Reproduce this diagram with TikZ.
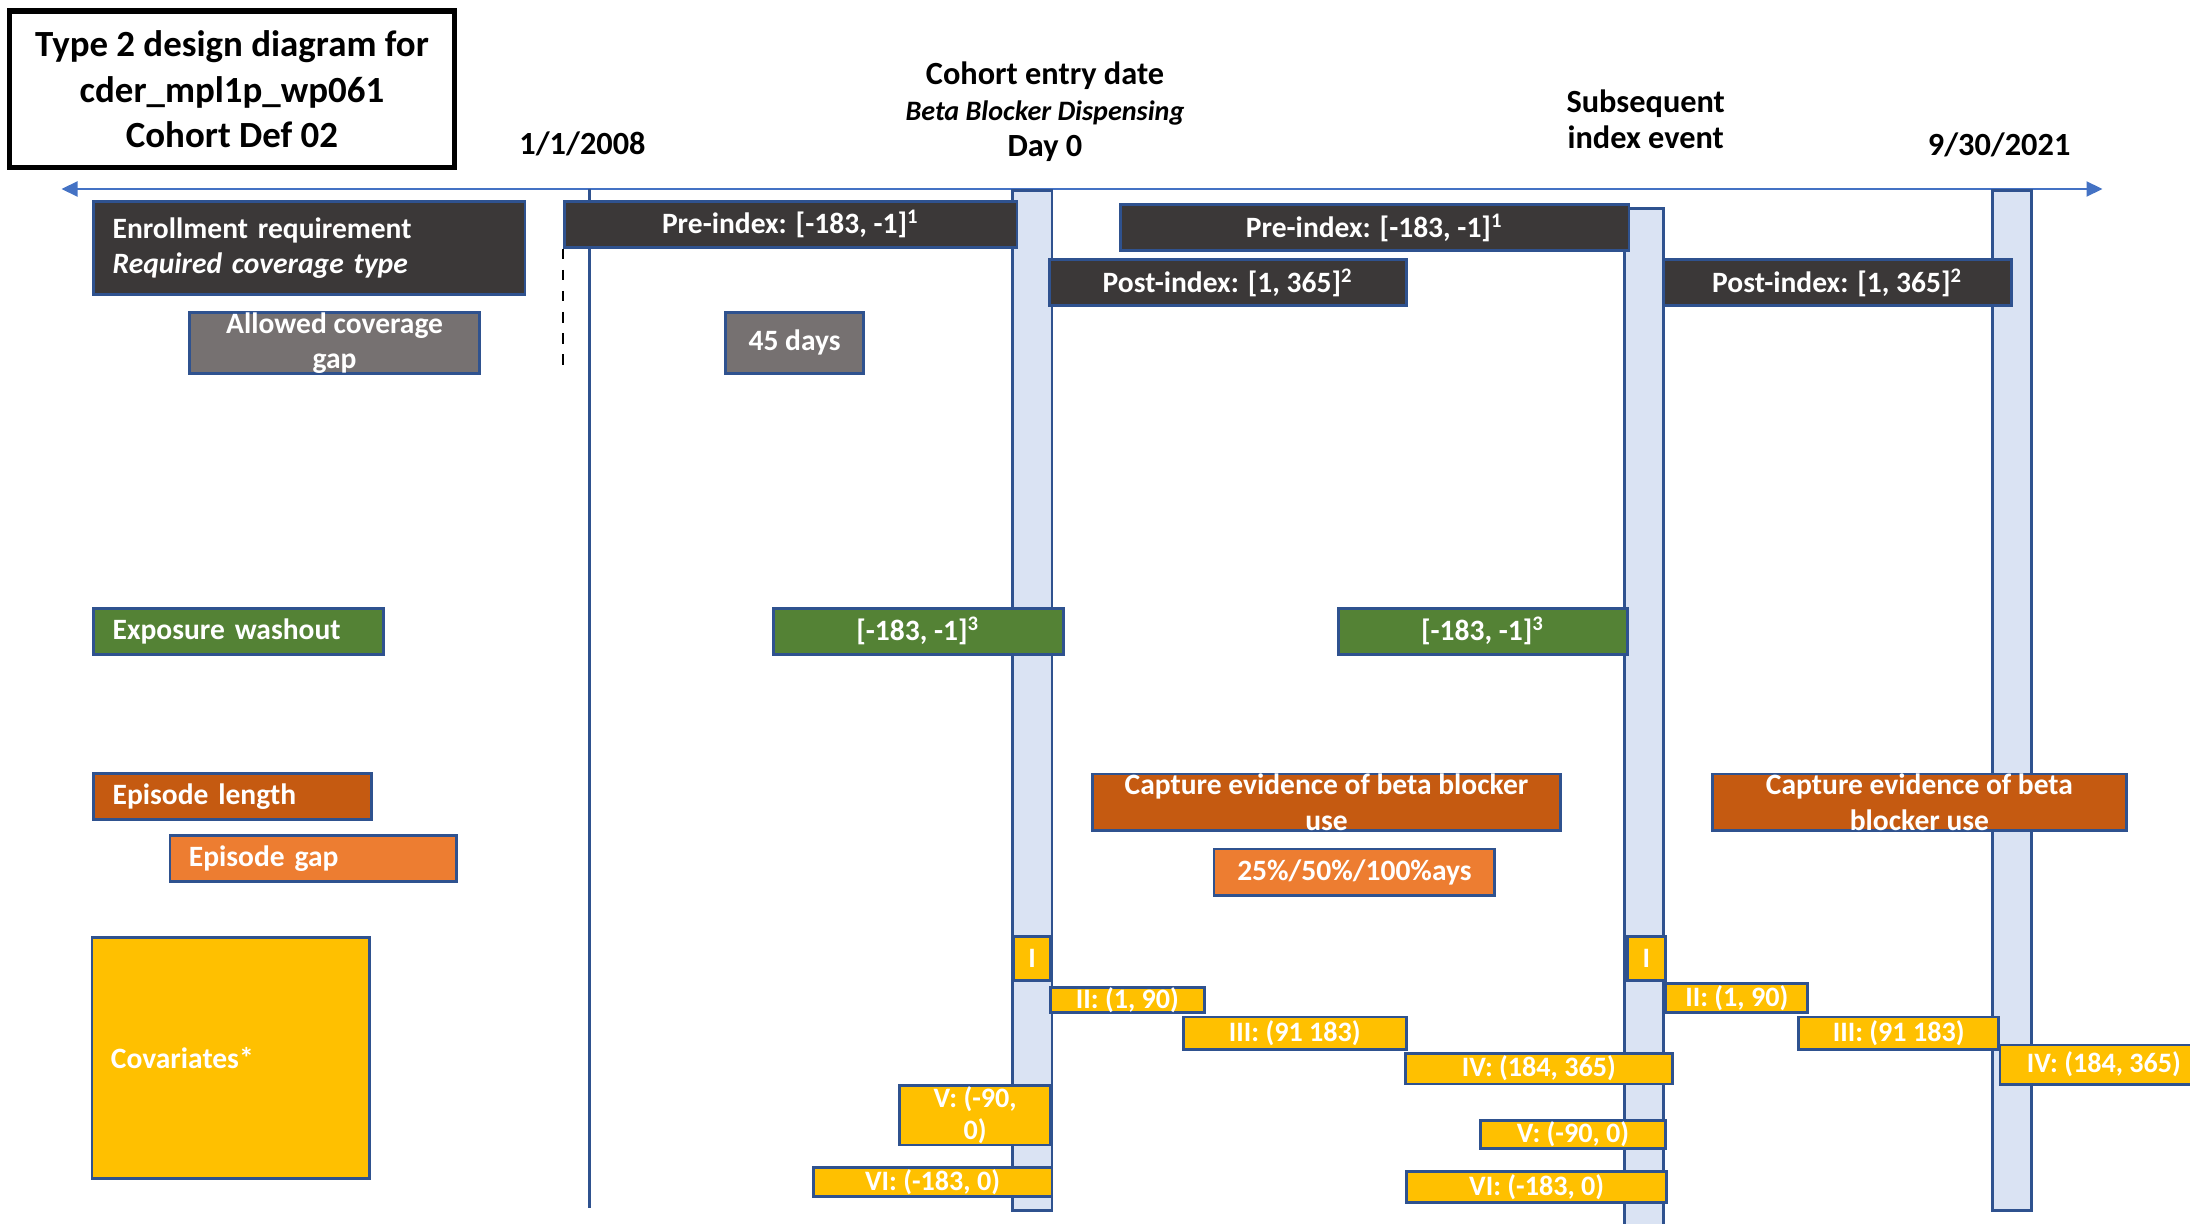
\documentclass[tikz,border=0pt]{standalone}
\usepackage{fontspec}
\setmainfont{Carlito}
\usetikzlibrary{arrows.meta}

\definecolor{edge}{HTML}{2F528F}
\definecolor{axisblue}{HTML}{4472C4}
\definecolor{barblue}{HTML}{DAE3F3}
\definecolor{darkbox}{HTML}{3B3838}
\definecolor{graybox}{HTML}{767171}
\definecolor{greenbox}{HTML}{548235}
\definecolor{rustbox}{HTML}{C55A11}
\definecolor{orangebox}{HTML}{ED7D31}
\definecolor{goldbox}{HTML}{FFC000}

\tikzset{
  box/.style={draw=edge, line width=0.8pt, fill=#1, text=white, inner sep=0pt,
    anchor=north west, align=center, font=\bfseries\fontsize{8.4}{10.1}\selectfont},
  lbox/.style={box=#1, align=left, inner xsep=0.19cm},
  cov/.style={box=goldbox, font=\bfseries\fontsize{8}{9.2}\selectfont},
  bar/.style={draw=edge, line width=0.8pt, fill=barblue, anchor=north west,
    minimum width=0.391cm, inner sep=0pt},
  date/.style={font=\bfseries\fontsize{9.2}{10.3}\selectfont, align=center},
}

\begin{document}
\begin{tikzpicture}
    \useasboundingbox (0,0) rectangle (21.90,12.23);

    % Title
    \node[draw, line width=1.6pt, minimum width=4.449cm, minimum height=1.565cm, align=center,
      font=\bfseries\fontsize{10.5}{12.9}\selectfont] (title) at (2.32,11.336)
      {Type 2 design diagram for\\cder\_mpl1p\_wp061\\Cohort Def 02};

    % Timeline
    \coordinate (tl-w) at (0.615,10.340);
    \coordinate (tl-e) at (21.025,10.340);
    \draw[axisblue, line width=0.6pt, {Triangle[length=0.16cm,width=0.15cm]}-{Triangle[length=0.16cm,width=0.15cm]}] (tl-w) -- (tl-e);

    % Dates
    \node[date] (d-start) at (5.825,10.791) {1/1/2008};
    \node[date] (d-entry) at (10.450,11.110) {Cohort entry date\\{\itshape\fontsize{8}{10.3}\selectfont Beta Blocker Dispensing}\\Day 0};
    \node[date] (d-next) at (16.457,11.036) {Subsequent\\index event};
    \node[date] (d-end) at (19.991,10.777) {9/30/2021};

    % Study start
    \coordinate (start-top) at (5.895,10.340);
    \coordinate (start-bot) at (5.895,0.146);
    \draw[edge, line width=0.7pt] (start-top) -- (start-bot);

    % Index days
    \node[bar, minimum height=10.203cm] (idx1) at (10.114,10.340) {};
    \node[bar, minimum height=10.262cm] (idx2) at (16.233,10.162) {};
    \node[bar, minimum height=10.203cm] (idx3) at (19.907,10.340) {};

    % Enrollment
    \node[lbox=darkbox, text width=3.933cm, minimum height=0.936cm] (enr) at (0.922,10.232)
      {Enrollment requirement\\\textit{Required coverage type}};
    \node[box=darkbox, minimum width=4.526cm, minimum height=0.461cm] (pre1) at (5.630,10.232) {Pre-index: [-183, -1]\textsuperscript{1}};
    \node[box=darkbox, minimum width=5.085cm, minimum height=0.461cm] (pre2) at (11.190,10.196) {Pre-index: [-183, -1]\textsuperscript{1}};
    \node[box=darkbox, minimum width=3.576cm, minimum height=0.461cm] (post1) at (10.478,9.646) {Post-index: [1, 365]\textsuperscript{2}};
    \node[box=darkbox, minimum width=3.474cm, minimum height=0.461cm] (post2) at (16.624,9.646) {Post-index: [1, 365]\textsuperscript{2}};
    \coordinate (pre1-end) at (5.630,8.563);
    \draw[dashed, line width=0.5pt] (pre1.south west) -- (pre1-end);

    % Coverage gap
    \node[box=graybox, minimum width=2.904cm, minimum height=0.617cm] (gap) at (1.880,9.123) {Allowed coverage\\gap};
    \node[box=graybox, minimum width=1.383cm, minimum height=0.617cm] (gap-days) at (7.241,9.123) {45 days};

    % Washout
    \node[lbox=greenbox, text width=2.522cm, minimum height=0.460cm] (wash) at (0.922,6.161) {Exposure washout};
    \node[box=greenbox, minimum width=2.899cm, minimum height=0.460cm] (wash1) at (7.718,6.161) {[-183, -1]\textsuperscript{3}};
    \node[box=greenbox, minimum width=2.892cm, minimum height=0.460cm] (wash2) at (13.369,6.161) {[-183, -1]\textsuperscript{3}};

    % Episodes
    \node[lbox=rustbox, text width=2.400cm, minimum height=0.461cm] (ep-len) at (0.922,4.512) {Episode length};
    \node[box=rustbox, minimum width=4.680cm, minimum height=0.566cm] (cap1) at (10.911,4.505) {Capture evidence of beta blocker\\use};
    \node[box=rustbox, minimum width=4.135cm, minimum height=0.566cm] (cap2) at (17.113,4.505) {Capture evidence of beta\\blocker use};
    \node[lbox=orangebox, text width=2.482cm, minimum height=0.461cm] (ep-gap) at (1.685,3.890) {Episode gap};
    \node[box=orangebox, minimum width=2.808cm, minimum height=0.465cm] (ep-gap1) at (12.126,3.754) {25\%/50\%/100\%ays};

    % Covariates
    \node[lbox=goldbox, text width=2.397cm, minimum height=2.410cm] (cov) at (0.905,2.870) {Covariates*};
    \node[cov, minimum width=0.367cm, minimum height=0.440cm] (c1-i) at (10.124,2.877) {I};
    \node[cov, minimum width=1.537cm, minimum height=0.251cm] (c1-ii) at (10.491,2.367) {II: (1, 90)};
    \node[cov, minimum width=2.230cm, minimum height=0.321cm] (c1-iii) at (11.819,2.074) {III: (91 183)};
    \node[cov, minimum width=2.668cm, minimum height=0.307cm] (c1-iv) at (14.040,1.711) {IV: (184, 365)};
    \node[cov, minimum width=1.509cm, minimum height=0.595cm] (c1-v) at (8.983,1.389) {V: (-90,\\0)};
    \node[cov, minimum width=2.389cm, minimum height=0.293cm] (c1-vi) at (8.117,0.571) {VI: (-183, 0)};

    \node[cov, minimum width=0.377cm, minimum height=0.440cm] (c2-i) at (16.261,2.877) {I};
    \node[cov, minimum width=1.418cm, minimum height=0.288cm] (c2-ii) at (16.645,2.409) {II: (1, 90)};
    \node[cov, minimum width=1.996cm, minimum height=0.321cm] (c2-iii) at (17.974,2.074) {III: (91 183)};
    \node[cov, minimum width=2.080cm, minimum height=0.391cm] (c2-iv) at (19.985,1.794) {IV: (184, 365)};
    \node[cov, minimum width=1.844cm, minimum height=0.279cm] (c2-v) at (14.794,1.040) {V: (-90, 0)};
    \node[cov, minimum width=2.598cm, minimum height=0.313cm] (c2-vi) at (14.054,0.529) {VI: (-183, 0)};
\end{tikzpicture}
\end{document}
